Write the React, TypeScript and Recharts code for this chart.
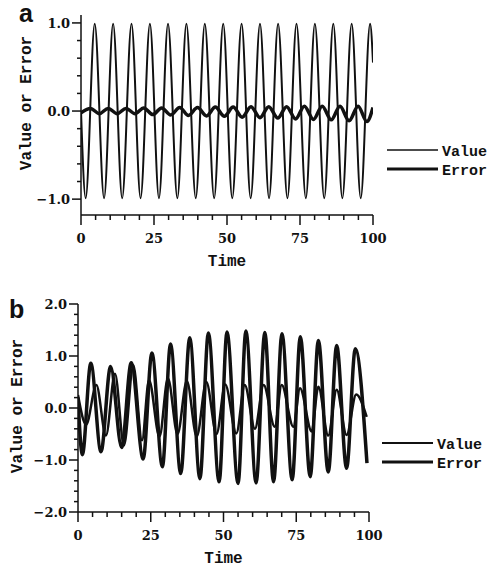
import { LineChart, Line, XAxis, YAxis, Legend } from 'recharts';

// Panel a: steady oscillation with a small tracking error.
// Times are turning points of each trace, values are the level at that time.
const valueTimeA = [0, 1.6, 4.7, 7.9, 11.0, 14.1, 17.3, 20.4, 23.6, 26.7, 29.8, 33.0, 36.1, 39.3, 42.4, 45.6, 48.7, 51.8, 55.0, 58.1, 61.3, 64.4, 67.5, 70.7, 73.8, 77.0, 80.1, 83.3, 86.4, 89.5, 92.7, 95.8, 99.0, 100];
const valueA = [0, -0.99, 0.99, -0.99, 0.99, -0.99, 0.99, -0.99, 0.99, -0.99, 0.99, -0.99, 0.99, -0.99, 0.99, -0.99, 0.99, -0.99, 0.99, -0.99, 0.99, -0.99, 0.99, -0.99, 0.99, -0.99, 0.99, -0.99, 0.99, -0.99, 0.99, -0.99, 0.99, 0.55];

const errorTimeA = [0, 3.2, 6.3, 9.3, 12.4, 15.4, 18.5, 21.5, 24.6, 27.6, 30.7, 33.8, 36.8, 39.9, 43.0, 46.0, 49.1, 52.1, 55.2, 58.2, 61.3, 64.3, 67.4, 70.4, 73.5, 76.5, 79.6, 82.6, 85.7, 88.7, 91.8, 94.9, 97.9, 100];
const errorA = [-0.02, 0.03, -0.03, 0.03, -0.03, 0.03, -0.03, 0.035, -0.04, 0.035, -0.045, 0.04, -0.05, 0.04, -0.055, 0.045, -0.06, 0.045, -0.07, 0.05, -0.075, 0.05, -0.08, 0.05, -0.09, 0.055, -0.095, 0.055, -0.1, 0.055, -0.11, 0.055, -0.12, 0.04];

// Panel b: the error grows and the value drifts out of step.
const valueTimeB = [0, 2.8, 6.3, 9.6, 12.7, 15.8, 19.0, 22.0, 24.4, 28.0, 30.9, 34.2, 37.4, 40.8, 44.1, 47.6, 50.6, 54.4, 57.3, 60.8, 63.8, 67.6, 70.0, 74.0, 76.3, 80.3, 82.6, 86.0, 88.9, 92.3, 95.6, 99.2];
const valueB = [0.25, -0.32, 0.44, -0.53, 0.66, -0.72, 0.82, -0.62, 0.54, -0.55, 0.57, -0.5, 0.52, -0.55, 0.5, -0.5, 0.45, -0.49, 0.44, -0.4, 0.44, -0.36, 0.44, -0.36, 0.38, -0.45, 0.41, -0.53, 0.35, -0.52, 0.26, -0.17];

const errorTimeB = [0, 1.5, 4.4, 7.9, 11.2, 15.0, 18.3, 22.4, 25.4, 29.0, 31.8, 35.3, 38.4, 41.9, 44.8, 48.5, 51.2, 55.0, 57.7, 61.2, 64.2, 67.2, 70.1, 73.6, 76.4, 79.8, 82.6, 86.0, 88.9, 92.3, 95.3, 99.3];
const errorB = [0.2, -0.9, 0.86, -0.84, 0.8, -0.76, 0.87, -0.98, 1.06, -1.13, 1.23, -1.26, 1.35, -1.36, 1.44, -1.42, 1.46, -1.45, 1.48, -1.44, 1.45, -1.42, 1.43, -1.38, 1.37, -1.32, 1.3, -1.23, 1.2, -1.16, 1.14, -1.06];

const timeTicks = [0, 5, 10, 15, 20, 25, 30, 35, 40, 45, 50, 55, 60, 65, 70, 75, 80, 85, 90, 95, 100];
const levelTicksA = [-1.0, -0.8, -0.6, -0.4, -0.2, 0.0, 0.2, 0.4, 0.6, 0.8, 1.0];
const levelTicksB = [-2.0, -1.8, -1.6, -1.4, -1.2, -1.0, -0.8, -0.6, -0.4, -0.2, 0.0, 0.2, 0.4, 0.6, 0.8, 1.0, 1.2, 1.4, 1.6, 1.8, 2.0];

const INK = '#111';
const NUM_FONT = '"DejaVu Serif", serif';
const TYPE_FONT = '"Liberation Mono", monospace';

const toPoints = (ts: number[], vs: number[]) => ts.map((t, i) => ({ t, v: vs[i] }));

interface Series {
  name: string;
  data: { t: number; v: number }[];
  width: number;
}

function TimeTick({ x, y, payload }: any) {
  const major = payload.value % 25 === 0;
  return (
    <g>
      <line x1={x} y1={y} x2={x} y2={y + (major ? 10 : 5)} stroke={INK} strokeWidth={1.5} />
      {major && (
        <text x={x} y={y + 28} textAnchor="middle" fontFamily={NUM_FONT} fontWeight="bold" fontSize={13} fill={INK}>
          {payload.value}
        </text>
      )}
    </g>
  );
}

function LevelTick({ x, y, payload }: any) {
  const v: number = payload.value;
  const major = Math.abs(v - Math.round(v)) < 1e-6;
  return (
    <g>
      <line x1={x - (major ? 9 : 4)} y1={y} x2={x} y2={y} stroke={INK} strokeWidth={1.5} />
      {major && (
        <text x={x - 11} y={y} dy="0.36em" textAnchor="end" fontFamily={NUM_FONT} fontWeight="bold" fontSize={13} fill={INK}>
          {v.toFixed(1).replace('-', '\u2212')}
        </text>
      )}
    </g>
  );
}

// keeps the key rows in the order the series are drawn (Value above Error)
function SeriesKey({ payload, series }: any) {
  const names = (payload || []).map((entry: any) => entry.value);
  const rows = series.filter((s: Series) => names.includes(s.name));
  return (
    <svg width={112} height={42}>
      {rows.map((s: Series, i: number) => {
        const cy = 10 + i * 19;
        return (
          <g key={s.name}>
            <line x1={0} y1={cy - 1} x2={51} y2={cy - 1} stroke={INK} strokeWidth={s.width - 0.5} />
            <text x={55} y={cy} dy="0.35em" fontFamily={TYPE_FONT} fontWeight="bold" fontSize={15} fill={INK}>
              {s.name}
            </text>
          </g>
        );
      })}
    </svg>
  );
}

interface PanelProps {
  tag: string;
  tagPos: { left: number; top: number };
  series: Series[];
  yDomain: [number, number];
  yTicks: number[];
  yAxisWidth: number;
  margin: { top: number; right: number; bottom: number };
  titleX: number;
  titleShift: number;
  legendPos: { left: number; top: number };
}

function Panel({ tag, tagPos, series, yDomain, yTicks, yAxisWidth, margin, titleX, titleShift, legendPos }: PanelProps) {
  return (
    <div style={{ position: 'relative', width: 493, height: 285 }}>
      <LineChart width={493} height={285} margin={{ ...margin, left: 0 }}>
        <XAxis
          dataKey="t"
          type="number"
          domain={[0, 100]}
          ticks={timeTicks}
          interval={0}
          tick={<TimeTick />}
          tickLine={false}
          tickSize={0}
          tickMargin={0}
          height={40}
          allowDataOverflow
          axisLine={{ stroke: INK, strokeWidth: 1.5 }}
          label={{
            content: ({ viewBox }: any) => (
              <text
                x={viewBox.x + viewBox.width / 2}
                y={viewBox.y + 51}
                textAnchor="middle"
                fontFamily={TYPE_FONT}
                fontWeight="bold"
                fontSize={16}
                fill={INK}
              >
                Time
              </text>
            ),
          }}
        />
        <YAxis
          type="number"
          domain={yDomain}
          ticks={yTicks}
          interval={0}
          tick={<LevelTick />}
          tickLine={false}
          tickSize={0}
          tickMargin={0}
          width={yAxisWidth}
          allowDataOverflow
          axisLine={{ stroke: INK, strokeWidth: 1.5 }}
          label={{
            content: ({ viewBox }: any) => {
              const cy = viewBox.y + viewBox.height / 2 + titleShift;
              return (
                <text
                  x={titleX}
                  y={cy}
                  dy="0.35em"
                  transform={`rotate(-90 ${titleX} ${cy})`}
                  textAnchor="middle"
                  fontFamily={TYPE_FONT}
                  fontWeight="bold"
                  fontSize={16}
                  fill={INK}
                >
                  Value or Error
                </text>
              );
            },
          }}
        />
        <Legend
          layout="vertical"
          align="center"
          verticalAlign="middle"
          wrapperStyle={{ left: legendPos.left, top: legendPos.top, width: 112, height: 42 }}
          content={(props: any) => <SeriesKey {...props} series={series} />}
        />
        {series.map((s) => (
          <Line
            key={s.name}
            data={s.data}
            dataKey="v"
            name={s.name}
            type="monotone"
            stroke={INK}
            strokeWidth={s.width}
            strokeLinejoin="round"
            dot={false}
            activeDot={false}
            isAnimationActive={false}
          />
        ))}
      </LineChart>
      <div
        style={{
          position: 'absolute',
          left: tagPos.left,
          top: tagPos.top,
          fontFamily: '"Liberation Sans", Arial, sans-serif',
          fontWeight: 'bold',
          fontSize: 25,
          lineHeight: '25px',
          color: INK,
        }}
      >
        {tag}
      </div>
    </div>
  );
}

export default function App() {
  const seriesA: Series[] = [
    { name: 'Value', data: toPoints(valueTimeA, valueA), width: 2 },
    { name: 'Error', data: toPoints(errorTimeA, errorA), width: 3.5 },
  ];
  const seriesB: Series[] = [
    { name: 'Value', data: toPoints(valueTimeB, valueB), width: 2.5 },
    { name: 'Error', data: toPoints(errorTimeB, errorB), width: 3.5 },
  ];

  return (
    <div style={{ position: 'absolute', left: 0, top: 0, width: 493, height: 570, background: '#fff' }}>
      <Panel
        tag="a"
        tagPos={{ left: 19, top: 1 }}
        series={seriesA}
        yDomain={[-1.18, 1.09]}
        yTicks={levelTicksA}
        yAxisWidth={81}
        margin={{ top: 15, right: 120, bottom: 30 }}
        titleX={25}
        titleShift={-12}
        legendPos={{ left: 387, top: 141 }}
      />
      <Panel
        tag="b"
        tagPos={{ left: 9, top: 12 }}
        series={seriesB}
        yDomain={[-2, 2]}
        yTicks={levelTicksB}
        yAxisWidth={78}
        margin={{ top: 19, right: 124, bottom: 18 }}
        titleX={16}
        titleShift={-2}
        legendPos={{ left: 382, top: 149 }}
      />
    </div>
  );
}
